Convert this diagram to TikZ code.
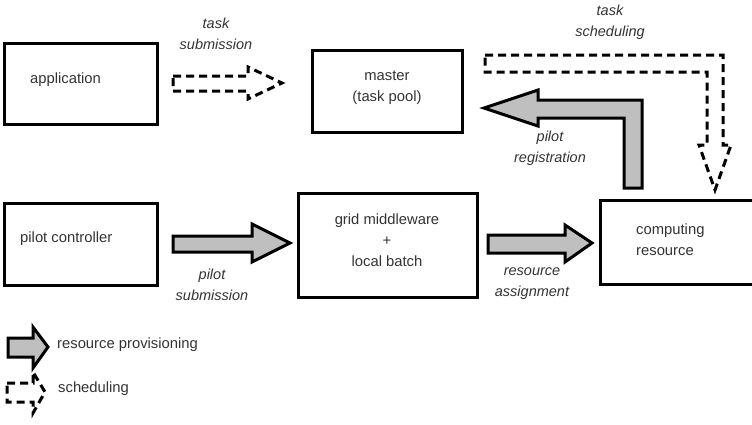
\documentclass[tikz,border=0pt]{standalone}
\usepackage{fontspec}
\setmainfont{Liberation Sans}
\definecolor{txt}{gray}{0.2}
\definecolor{fatfill}{gray}{0.75}
\begin{document}
\begin{tikzpicture}[x=1pt,y=-1pt,
  box/.style={draw=black,line width=3pt,minimum width=#1,inner sep=0pt},
  txtnode/.style={text=txt,font=\fontsize{14.8}{21}\selectfont,inner sep=0pt,align=center},
  lbl/.style={text=txt,font=\fontsize{14.5}{21}\selectfont\itshape,inner sep=0pt,align=center},
  fat/.style={draw=black,fill=fatfill,line width=3pt,line join=miter},
  dsh/.style={draw=black,line width=3pt,dash pattern=on 8pt off 5pt}]
\useasboundingbox (0,0) rectangle (752,424);
\clip (0,0) rectangle (752,424);
% boxes
\node[box=153pt,minimum height=81pt] (app) at (80.5,83.5) {};
\node[box=150pt,minimum height=82pt] (master) at (387,91) {};
\node[box=153pt,minimum height=82pt] (pc) at (80.5,244) {};
\node[box=179pt,minimum height=104pt] (grid) at (387.5,245) {};
\node[box=200pt,minimum height=81pt,draw=none] (comp) at (702,242.5) {};
\draw[line width=3pt,line join=miter] (comp.north east) -- (comp.north west) -- (comp.south west) -- (comp.south east);
% box texts
\node[txtnode,anchor=west] (tapp) at (30,80) {application};
\node[txtnode] (tmaster) at (387,88) {master\\(task pool)};
\node[txtnode,anchor=west] (tpc) at (20,239) {pilot controller};
\node[txtnode] (tgrid) at (387,240.5) {grid middleware\\+\\local batch};
\node[txtnode,anchor=west,align=left] (tcomp) at (636,240) {computing\\resource};
% fat arrows
\draw[fat] (173,236) -- (252,236) -- (252,224) -- (290,243) -- (252,262) -- (252,252) -- (173,252) -- cycle;
\draw[fat] (488,235) -- (565,235) -- (565,225) -- (592,243) -- (565,262) -- (565,253) -- (488,253) -- cycle;
\draw[fat] (624,188) -- (624,118) -- (538,118) -- (538,126) -- (484,108) -- (538,90) -- (538,100) -- (642,100) -- (642,188) -- cycle;
% dashed arrows
\draw[dsh] (173,76) -- (248,76) -- (248,67) -- (282,83) -- (248,99) -- (248,91) -- (173,91) -- cycle;
\draw[dsh] (485,55) -- (723,55) -- (723,145) -- (731,145) -- (715,190) -- (699,145) -- (707,145) -- (707,72) -- (485,72) -- cycle;
% labels
\node[lbl] (l1) at (216,33.5) {task\\submission};
\node[lbl] (l2) at (610,22.5) {task\\scheduling};
\node[lbl] (l3) at (550,148) {pilot\\registration};
\node[lbl] (l4) at (212,285) {pilot\\submission};
\node[lbl] (l5) at (532,284) {resource\\assignment};
% legend
\draw[fat] (8,338) -- (33,338) -- (33,327) -- (48,347) -- (33,368) -- (33,357) -- (8,357) -- cycle;
\node[txtnode,anchor=west] (leg1) at (57,345) {resource provisioning};
\draw[dsh] (7,383) -- (33,383) -- (33,372) -- (45,392) -- (33,413) -- (33,402) -- (7,402) -- cycle;
\node[txtnode,anchor=west] (leg2) at (58,389) {scheduling};
\end{tikzpicture}
\end{document}
